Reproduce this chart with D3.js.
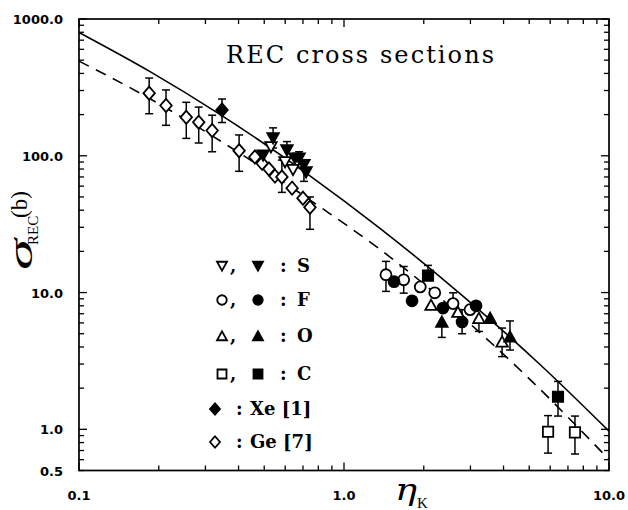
<!DOCTYPE html>
<html><head><meta charset="utf-8">
<script src="https://cdn.jsdelivr.net/npm/d3@7/dist/d3.min.js"></script>
<style>body{margin:0;background:#fff}svg{display:block}</style>
</head><body>
<svg id="chart" width="628" height="510"></svg>
<script>
// ---------- axis ticks ----------
const xTickValues = [0.1, 1, 10];
const xTickLabels = ["0.1", "1.0", "10.0"];
const yTickValues = [0.5, 1, 10, 100, 1000];
const yTickLabels = ["0.5", "1.0", "10.0", "100.0", "1000.0"];

// ---------- theory curves ----------
const solidEta   = [0.1, 0.1854, 0.3345, 0.744, 1.367, 2.74, 5.49, 10];
const solidSigma = [796, 412, 205, 71.4, 29.5, 9.82, 2.98, 0.97];
const dashEta    = [0.1, 0.170, 0.3713, 0.833, 1.344, 4.905, 10];
const dashSigma  = [492, 287, 115.9, 40.9, 21.2, 2.43, 0.602];

// ---------- data points ----------
// Ge [7] (open diamonds)
const geEta   = [0.184, 0.213, 0.254, 0.283, 0.318, 0.402, 0.461, 0.491, 0.521, 0.549, 0.583, 0.637, 0.700, 0.744];
const geSigma = [287, 233, 191, 176, 153, 109, 98, 88, 80, 71, 70, 58, 49, 42];
const geLo    = [203, 167, 134, 124, 107, 77, null, null, null, null, 54, null, null, 29];
const geHi    = [370, 303, 246, 227, 198, 142, null, null, null, null, 93, null, null, 50];
// Xe [1] (filled diamond)
const xeEta = [0.3465], xeSigma = [216], xeLo = [175], xeHi = [260];
// S filled / open (down triangles)
const sFillEta   = [0.495, 0.540, 0.609, 0.653, 0.677, 0.706, 0.719];
const sFillSigma = [101, 135, 110, 96, 96, 86, 76];
const sFillLo    = [null, 114, null, null, null, 65, null];
const sFillHi    = [null, 160, 127, null, 107, null, null];
const sOpenEta   = [0.530, 0.599, 0.642];
const sOpenSigma = [116, 90, 79];
const sOpenLo    = [null, null, null];
const sOpenHi    = [null, null, null];
// F filled / open (circles)
const fOpenEta   = [1.44, 1.68, 1.94, 2.20, 2.58, 2.99];
const fOpenSigma = [13.5, 12.4, 11.0, 9.96, 8.3, 7.5];
const fOpenLo    = [10.2, 9.9, null, null, null, null];
const fOpenHi    = [16.9, 15.5, null, null, 9.96, null];
const fFillEta   = [1.545, 1.806, 2.364, 2.79, 3.15];
const fFillSigma = [12.0, 8.7, 7.7, 6.1, 8.0];
const fFillLo    = [null, null, null, 5.0, null];
const fFillHi    = [null, null, null, 7.5, null];
// O filled / open (up triangles)
const oFillEta   = [2.34, 3.56, 4.23];
const oFillSigma = [6.1, 6.5, 4.75];
const oFillLo    = [4.7, null, 3.8];
const oFillHi    = [null, null, 6.2];
const oOpenEta   = [2.13, 2.69, 3.23, 3.95];
const oOpenSigma = [8.1, 7.2, 6.5, 4.37];
const oOpenLo    = [null, null, 5.2, 3.4];
const oOpenHi    = [null, null, null, 5.5];
// C filled / open (squares)
const cFillEta   = [2.075, 6.42];
const cFillSigma = [13.3, 1.73];
const cFillLo    = [null, 1.25];
const cFillHi    = [15.8, 2.24];
const cOpenEta   = [5.89, 7.44];
const cOpenSigma = [0.96, 0.95];
const cOpenLo    = [0.67, 0.66];
const cOpenHi    = [1.26, 1.25];

// ---------- legend ----------
const legendOpen   = ["triDown", "circle", "triUp", "square", null, "diamond"];
const legendFilled = ["triDown", "circle", "triUp", "square", "diamond", null];
const legendLabels = ["S", "F", "O", "C", "Xe [1]", "Ge [7]"];

const titleText = "REC cross sections";

// ================= drawing =================
const svg = d3.select("#chart");
const X0 = 79, X1 = 609, Y0 = 470.5, Y1 = 19;
const x = d3.scaleLog().domain([0.1, 10]).range([X0, X1]);
const y = d3.scaleLog().domain([0.5, 1000]).range([Y0, Y1]);

svg.append("rect").attr("width", 628).attr("height", 510).attr("fill", "#fff");

function shapePath(type, s) {
  const h = s / 2;
  switch (type) {
    case "triDown": return `M${-h},${-h*0.85}L${h},${-h*0.85}L0,${h*0.95}Z`;
    case "triUp":   return `M${-h},${h*0.85}L${h},${h*0.85}L0,${-h*0.95}Z`;
    case "square":  return `M${-h*0.9},${-h*0.9}H${h*0.9}V${h*0.9}H${-h*0.9}Z`;
    case "diamond": return `M0,${-h*1.15}L${h},0L0,${h*1.15}L${-h},0Z`;
    case "circle":  return d3.arc()({innerRadius:0, outerRadius:h*0.95, startAngle:0, endAngle:2*Math.PI});
  }
}

// theory curves
const line = d3.line().x(d => x(d[0])).y(d => y(d[1])).curve(d3.curveMonotoneX);
svg.append("path").attr("d", line(solidEta.map((e,i)=>[e, solidSigma[i]])))
  .attr("fill","none").attr("stroke","#000").attr("stroke-width",1.6);
svg.append("path").attr("d", line(dashEta.map((e,i)=>[e, dashSigma[i]])))
  .attr("fill","none").attr("stroke","#000").attr("stroke-width",1.6)
  .attr("stroke-dasharray","11,8");

// series
const series = [
  {eta:geEta, sig:geSigma, lo:geLo, hi:geHi, type:"diamond", filled:false},
  {eta:xeEta, sig:xeSigma, lo:xeLo, hi:xeHi, type:"diamond", filled:true},
  {eta:sOpenEta, sig:sOpenSigma, lo:sOpenLo, hi:sOpenHi, type:"triDown", filled:false},
  {eta:sFillEta, sig:sFillSigma, lo:sFillLo, hi:sFillHi, type:"triDown", filled:true},
  {eta:fOpenEta, sig:fOpenSigma, lo:fOpenLo, hi:fOpenHi, type:"circle", filled:false},
  {eta:fFillEta, sig:fFillSigma, lo:fFillLo, hi:fFillHi, type:"circle", filled:true},
  {eta:oOpenEta, sig:oOpenSigma, lo:oOpenLo, hi:oOpenHi, type:"triUp", filled:false},
  {eta:oFillEta, sig:oFillSigma, lo:oFillLo, hi:oFillHi, type:"triUp", filled:true},
  {eta:cOpenEta, sig:cOpenSigma, lo:cOpenLo, hi:cOpenHi, type:"square", filled:false},
  {eta:cFillEta, sig:cFillSigma, lo:cFillLo, hi:cFillHi, type:"square", filled:true},
];

const errG = svg.append("g").attr("stroke","#000").attr("stroke-width",1.5).attr("fill","none");
series.forEach(s => {
  s.eta.forEach((e,i) => {
    const cx = x(e), cy = y(s.sig[i]);
    if (s.hi[i] != null) {
      const yh = y(s.hi[i]);
      errG.append("line").attr("x1",cx).attr("x2",cx).attr("y1",cy).attr("y2",yh);
      errG.append("line").attr("x1",cx-4).attr("x2",cx+4).attr("y1",yh).attr("y2",yh);
    }
    if (s.lo[i] != null) {
      const yl = y(s.lo[i]);
      errG.append("line").attr("x1",cx).attr("x2",cx).attr("y1",cy).attr("y2",yl);
      errG.append("line").attr("x1",cx-4).attr("x2",cx+4).attr("y1",yl).attr("y2",yl);
    }
  });
});
series.forEach(s => {
  svg.append("g").selectAll("path").data(s.eta.map((e,i)=>[e, s.sig[i]])).join("path")
    .attr("transform", d => `translate(${x(d[0])},${y(d[1])})`)
    .attr("d", shapePath(s.type, 11.5))
    .attr("fill", s.filled ? "#000" : "#fff")
    .attr("stroke", "#000").attr("stroke-width", 1.8);
});

// frame + ticks
svg.append("rect").attr("x",X0).attr("y",Y1).attr("width",X1-X0).attr("height",Y0-Y1)
  .attr("fill","none").attr("stroke","#000").attr("stroke-width",1.7);
const tg = svg.append("g").attr("stroke","#000").attr("stroke-width",1.3);
const isMajor = v => Math.abs(Math.log10(v) - Math.round(Math.log10(v))) < 1e-6;
x.ticks().forEach(v => {
  const px = x(v), L = isMajor(v) ? 8 : 5;
  tg.append("line").attr("x1",px).attr("x2",px).attr("y1",Y0).attr("y2",Y0-L);
  tg.append("line").attr("x1",px).attr("x2",px).attr("y1",Y1).attr("y2",Y1+L);
});
y.ticks().forEach(v => {
  const py = y(v), L = isMajor(v) ? 8 : 5;
  tg.append("line").attr("x1",X0).attr("x2",X0+L).attr("y1",py).attr("y2",py);
  tg.append("line").attr("x1",X1).attr("x2",X1-L).attr("y1",py).attr("y2",py);
});

// tick labels
const lblFont = "'DejaVu Sans', sans-serif";
xTickValues.forEach((v,i) => {
  svg.append("text").attr("x", x(v)).attr("y", 500).attr("text-anchor","middle")
    .attr("font-family", lblFont).attr("font-weight","bold").attr("font-size",13).text(xTickLabels[i]);
});
yTickValues.forEach((v,i) => {
  svg.append("text").attr("x", 63).attr("y", y(v) + 5).attr("text-anchor","end")
    .attr("font-family", lblFont).attr("font-weight","bold").attr("font-size",13).text(yTickLabels[i]);
});

// title
svg.append("text").attr("x",226).attr("y",63).attr("font-family","'DejaVu Serif', serif")
  .attr("font-size",24).attr("textLength",268).attr("lengthAdjust","spacing").text(titleText);

// axis titles
const yt = svg.append("text").attr("transform","translate(32,270) rotate(-90)")
  .attr("font-family","'Liberation Serif', serif").attr("fill","#000");
yt.append("tspan").attr("x",0).attr("font-style","italic").attr("font-size",34)
  .attr("textLength",31).attr("lengthAdjust","spacingAndGlyphs").text("σ");
yt.append("tspan").attr("x",25).attr("dy",6).attr("font-size",15).text("REC");
yt.append("tspan").attr("x",52).attr("dy",-11).attr("font-size",23).text("(b)");

const xt = svg.append("text").attr("x",395).attr("y",500).attr("font-family","'DejaVu Serif', serif");
xt.append("tspan").attr("font-style","italic").attr("font-size",29)
  .attr("textLength",22).attr("lengthAdjust","spacingAndGlyphs").text("η");
xt.append("tspan").attr("dy",8).attr("font-size",15).attr("font-family","'Liberation Serif', serif").text("K");

// legend
const rowY = [266, 300, 336, 374, 409, 442];
const lg = svg.append("g");
legendLabels.forEach((lab,i) => {
  const yy = rowY[i];
  const txt = (xx, t) => lg.append("text").attr("x",xx).attr("y",yy+6)
    .attr("font-family","'DejaVu Serif', serif").attr("font-weight","bold").attr("font-size",18).text(t);
  if (legendOpen[i] && legendFilled[i]) {
    lg.append("path").attr("transform",`translate(222,${yy})`).attr("d",shapePath(legendOpen[i],10))
      .attr("fill","#fff").attr("stroke","#000").attr("stroke-width",1.8);
    txt(230, ",");
    lg.append("path").attr("transform",`translate(258,${yy})`).attr("d",shapePath(legendFilled[i],10))
      .attr("fill","#000").attr("stroke","#000").attr("stroke-width",1.8);
    txt(280, ":");
    txt(297, lab);
  } else {
    const t = legendOpen[i] || legendFilled[i];
    lg.append("path").attr("transform",`translate(215,${yy})`).attr("d",shapePath(t,10))
      .attr("fill", legendFilled[i] ? "#000" : "#fff").attr("stroke","#000").attr("stroke-width",1.8);
    txt(236, ":");
    txt(250, lab);
  }
});
</script>
</body></html>
